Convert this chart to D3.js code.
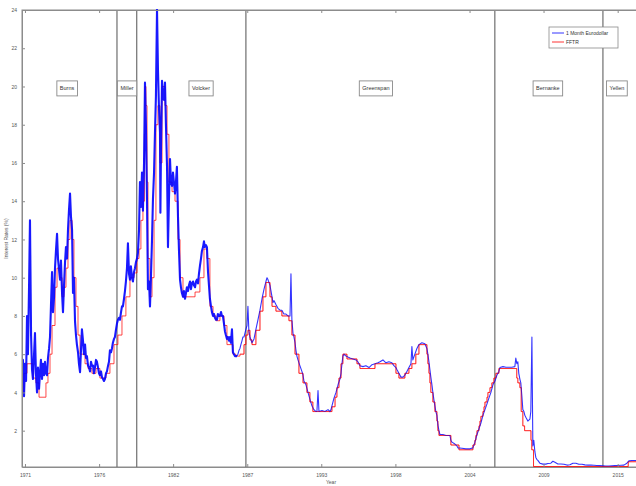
<!DOCTYPE html>
<html>
<head>
<meta charset="utf-8">
<script src="https://cdn.jsdelivr.net/npm/d3@7"></script>
<style>
  html, body { margin: 0; padding: 0; background: #fff; }
  svg { display: block; font-family: "Liberation Sans", Arial, sans-serif; }
</style>
</head>
<body>
<svg id="chart" width="636" height="486"></svg>
<script>
// 1-month Eurodollar deposit rate, [decimal year, percent]
const eurodollar = [
  [1971.15,4.4],[1971.22,5.7],[1971.30,3.8],[1971.37,5.5],[1971.45,4.6],[1971.52,8.0],[1971.59,6.0],[1971.67,9.5],
  [1971.74,13.0],[1971.82,7.0],[1971.89,5.2],[1971.96,4.7],[1972.04,6.0],[1972.11,7.1],[1972.18,5.0],[1972.26,4.0],
  [1972.33,5.3],[1972.41,4.2],[1972.48,5.0],[1972.55,5.7],[1972.63,4.7],[1972.70,5.5],[1972.78,4.9],[1972.85,5.6],
  [1972.92,5.0],[1973.00,4.9],[1973.07,5.8],[1973.15,6.3],[1973.22,6.9],[1973.29,8.5],[1973.37,10.3],[1973.44,8.2],
  [1973.52,9.0],[1973.59,10.5],[1973.66,11.4],[1973.74,12.3],[1973.81,11.0],[1973.89,10.4],[1973.96,9.9],[1974.03,10.9],
  [1974.11,9.2],[1974.18,8.2],[1974.25,9.5],[1974.33,10.8],[1974.40,11.6],[1974.48,11.0],[1974.55,12.5],[1974.62,13.5],
  [1974.70,14.4],[1974.77,13.2],[1974.85,12.5],[1974.92,9.2],[1974.99,10.0],[1975.07,7.7],[1975.14,7.0],[1975.21,6.5],
  [1975.29,6.1],[1975.36,5.5],[1975.44,5.06],[1975.51,6.2],[1975.58,7.3],[1975.66,6.7],[1975.73,6.0],[1975.81,6.5],
  [1975.88,5.8],[1975.95,5.9],[1976.03,5.4],[1976.10,5.3],[1976.18,5.1],[1976.25,5.6],[1976.32,5.4],[1976.40,5.4],
  [1976.47,5.0],[1976.54,5.3],[1976.62,5.7],[1976.69,5.6],[1976.77,5.3],[1976.84,5.0],[1976.91,4.9],[1976.99,5.1],
  [1977.06,4.8],[1977.14,4.7],[1977.21,4.6],[1977.28,4.7],[1977.36,5.0],[1977.43,5.1],[1977.51,5.4],[1977.58,5.6],
  [1977.65,6.2],[1977.73,6.1],[1977.80,6.3],[1977.87,6.6],[1977.95,6.8],[1978.02,6.9],[1978.10,7.3],[1978.17,7.6],
  [1978.24,7.8],[1978.32,7.9],[1978.39,7.8],[1978.47,8.2],[1978.54,8.5],[1978.61,8.5],[1978.69,8.9],[1978.76,9.3],
  [1978.83,9.8],[1978.91,10.5],[1978.98,11.8],[1979.06,10.2],[1979.13,9.9],[1979.20,10.6],[1979.28,10.0],[1979.35,9.8],
  [1979.43,10.3],[1979.50,10.5],[1979.57,10.8],[1979.65,11.0],[1979.72,11.3],[1979.80,12.5],[1979.87,15.0],[1979.94,13.7],
  [1980.02,15.5],[1980.09,13.5],[1980.17,16.0],[1980.24,20.2],[1980.31,18.0],[1980.39,14.0],[1980.46,9.4],[1980.54,9.8],
  [1980.61,8.5],[1980.68,10.0],[1980.76,12.0],[1980.83,14.1],[1980.91,15.5],[1980.98,17.6],[1981.05,19.5],[1981.13,24.0],
  [1981.20,20.9],[1981.27,19.0],[1981.35,17.6],[1981.38,13.4],[1981.42,16.5],[1981.50,20.3],[1981.57,19.5],[1981.64,19.3],
  [1981.72,20.2],[1981.79,18.0],[1981.87,15.8],[1981.94,11.6],[1982.01,14.0],[1982.09,16.2],[1982.16,15.0],[1982.24,14.8],
  [1982.31,15.5],[1982.38,15.0],[1982.46,14.4],[1982.53,15.0],[1982.60,15.8],[1982.68,13.2],[1982.75,11.5],[1982.83,9.9],
  [1982.90,9.5],[1982.97,9.2],[1983.05,9.0],[1983.12,9.3],[1983.20,8.9],[1983.27,9.2],[1983.34,9.5],[1983.42,9.3],
  [1983.49,9.6],[1983.57,9.8],[1983.64,9.4],[1983.71,9.7],[1983.79,9.8],[1983.86,9.6],[1983.94,9.5],[1984.01,9.8],
  [1984.08,9.9],[1984.16,9.7],[1984.23,10.2],[1984.30,10.6],[1984.38,11.0],[1984.45,11.4],[1984.53,11.6],[1984.60,11.9],
  [1984.67,11.6],[1984.75,11.7],[1984.82,11.6],[1984.90,10.3],[1984.97,9.6],[1985.04,8.9],[1985.12,8.5],[1985.19,8.2],
  [1985.27,8.0],[1985.34,8.1],[1985.41,7.9],[1985.49,7.8],[1985.56,7.8],[1985.63,8.1],[1985.71,8.0],[1985.78,8.0],
  [1985.86,8.2],[1985.93,8.0],[1986.00,8.0],[1986.08,7.6],[1986.15,7.2],[1986.22,7.0],[1986.30,6.8],[1986.37,6.9],
  [1986.45,6.7],[1986.52,6.9],[1986.59,6.6],[1986.67,7.3],[1986.74,6.1],[1986.82,6.0],[1986.89,5.9],[1986.96,5.9],
  [1987.04,5.9],[1987.11,6.0],[1987.19,6.2],[1987.26,6.3],[1987.33,6.5],[1987.41,6.7],[1987.48,6.9],[1987.56,6.9],
  [1987.63,7.1],[1987.70,7.3],[1987.78,7.5],[1987.85,8.5],[1987.92,7.2],[1988.00,6.9],[1988.15,6.6],[1988.30,6.8],
  [1988.44,7.3],[1988.59,7.8],[1988.74,8.3],[1988.89,8.9],[1989.04,9.4],[1989.18,9.8],[1989.26,10.0],[1989.33,9.9],
  [1989.48,9.6],[1989.63,9.0],[1989.70,8.7],[1989.78,8.8],[1989.92,8.6],[1990.07,8.4],[1990.22,8.3],[1990.36,8.3],
  [1990.51,8.1],[1990.66,8.1],[1990.81,8.0],[1990.96,8.0],[1991.03,10.2],[1991.10,7.8],[1991.18,7.1],[1991.25,6.9],
  [1991.33,6.6],[1991.40,6.2],[1991.47,5.9],[1991.55,5.7],[1991.69,5.4],[1991.84,5.1],[1991.92,4.9],[1991.99,4.6],
  [1992.14,4.4],[1992.29,4.0],[1992.43,3.65],[1992.58,3.3],[1992.73,3.1],[1992.88,3.0],[1992.95,3.0],[1993.03,4.1],
  [1993.10,3.0],[1993.32,3.05],[1993.54,3.0],[1993.77,3.1],[1993.91,3.0],[1993.99,3.1],[1994.06,3.3],[1994.21,3.7],
  [1994.36,4.0],[1994.51,4.4],[1994.65,4.7],[1994.73,5.0],[1994.80,5.5],[1994.87,5.9],[1994.95,6.0],[1995.10,5.9],
  [1995.24,5.85],[1995.39,5.8],[1995.61,5.75],[1995.84,5.7],[1995.98,5.6],[1996.13,5.4],[1996.35,5.35],[1996.57,5.4],
  [1996.80,5.3],[1997.02,5.45],[1997.24,5.5],[1997.46,5.55],[1997.61,5.6],[1997.83,5.7],[1998.05,5.55],[1998.27,5.6],
  [1998.49,5.55],[1998.64,5.4],[1998.79,5.3],[1998.86,5.2],[1999.01,5.0],[1999.16,4.8],[1999.31,4.8],[1999.45,4.9],
  [1999.60,5.1],[1999.75,5.3],[1999.90,5.5],[1999.97,6.4],[2000.04,5.7],[2000.19,6.0],[2000.34,6.3],[2000.49,6.5],
  [2000.71,6.6],[2000.93,6.55],[2001.08,6.3],[2001.15,6.0],[2001.23,5.6],[2001.30,5.2],[2001.37,4.8],[2001.45,4.4],
  [2001.52,4.0],[2001.60,3.6],[2001.67,3.3],[2001.74,3.0],[2001.82,2.8],[2001.89,2.3],[2001.97,2.0],[2002.04,1.8],
  [2002.26,1.8],[2002.48,1.75],[2002.78,1.75],[2002.85,1.5],[2002.93,1.4],[2003.15,1.3],[2003.30,1.2],[2003.37,1.1],
  [2003.67,1.08],[2003.96,1.05],[2004.26,1.05],[2004.48,1.1],[2004.63,1.4],[2004.78,1.8],[2004.93,2.1],[2005.07,2.4],
  [2005.22,2.8],[2005.37,3.1],[2005.52,3.4],[2005.66,3.7],[2005.81,4.0],[2005.96,4.4],[2006.11,4.6],[2006.25,4.9],
  [2006.40,5.1],[2006.48,5.3],[2006.70,5.35],[2006.92,5.32],[2007.14,5.32],[2007.36,5.32],[2007.58,5.35],[2007.65,5.8],
  [2007.73,5.5],[2007.80,5.6],[2007.87,5.0],[2007.95,4.7],[2008.02,4.5],[2008.10,3.8],[2008.17,3.1],[2008.25,3.0],
  [2008.32,2.8],[2008.39,2.7],[2008.47,2.6],[2008.54,2.5],[2008.69,2.6],[2008.76,3.0],[2008.84,6.9],[2008.91,1.2],
  [2008.98,1.5],[2009.06,0.9],[2009.13,0.6],[2009.20,0.5],[2009.28,0.45],[2009.43,0.3],[2009.65,0.25],[2009.87,0.25],
  [2010.02,0.28],[2010.24,0.3],[2010.39,0.4],[2010.54,0.35],[2010.76,0.26],[2010.98,0.26],[2011.21,0.24],[2011.43,0.2],
  [2011.65,0.22],[2011.87,0.3],[2012.09,0.3],[2012.31,0.24],[2012.54,0.24],[2012.76,0.21],[2012.98,0.2],[2013.20,0.2],
  [2013.42,0.19],[2013.64,0.18],[2013.87,0.17],[2014.09,0.16],[2014.31,0.15],[2014.53,0.15],[2014.75,0.16],[2014.97,0.17],
  [2015.20,0.18],[2015.42,0.19],[2015.64,0.2],[2015.86,0.3],[2016.01,0.42],[2016.23,0.44],[2016.53,0.44],[2016.83,0.46]
];

// Federal funds target rate, [decimal year, percent] (held until the next entry)
const fftr = [
  [1971.15,4.0],[1971.30,5.0],[1971.52,5.5],[1971.96,4.75],[1972.18,4.5],[1972.41,3.75],[1972.92,4.5],[1973.07,5.0],
  [1973.22,6.0],[1973.37,7.5],[1973.59,9.5],[1973.74,10.5],[1973.96,10.0],[1974.11,9.0],[1974.25,9.5],[1974.40,10.5],
  [1974.55,12.0],[1974.70,13.0],[1974.85,12.0],[1974.99,10.0],[1975.14,8.5],[1975.29,7.0],[1975.44,6.0],[1975.81,5.5],
  [1976.03,5.25],[1976.32,5.0],[1976.62,5.25],[1976.91,4.75],[1977.36,5.0],[1977.65,5.5],[1977.95,6.5],[1978.24,7.0],
  [1978.54,8.0],[1978.83,9.0],[1979.13,10.0],[1979.43,10.25],[1979.65,11.0],[1979.80,11.5],[1979.94,13.0],[1980.09,14.0],
  [1980.20,17.5],[1980.24,20.0],[1980.31,19.0],[1980.39,15.0],[1980.46,11.0],[1980.61,9.0],[1980.76,10.0],[1980.91,13.0],
  [1981.05,18.0],[1981.20,19.0],[1981.35,16.0],[1981.50,20.0],[1981.72,19.0],[1981.87,17.5],[1982.01,15.0],[1982.24,14.5],
  [1982.46,14.0],[1982.68,12.0],[1982.83,10.0],[1983.05,9.0],[1983.94,9.25],[1984.30,10.0],[1984.60,11.5],[1984.82,11.0],
  [1985.04,8.5],[1985.27,8.0],[1985.49,7.75],[1985.78,8.0],[1986.08,7.5],[1986.30,6.5],[1986.74,6.0],[1986.96,5.9],
  [1987.26,6.0],[1987.56,6.5],[1987.70,7.0],[1987.85,7.25],[1988.00,6.75],[1988.15,6.5],[1988.44,7.25],[1988.74,8.25],
  [1988.96,9.0],[1989.18,9.75],[1989.48,9.0],[1989.63,8.5],[1989.92,8.25],[1990.36,8.0],[1990.88,7.75],[1991.10,7.0],
  [1991.33,6.0],[1991.62,5.0],[1991.92,4.5],[1992.21,4.0],[1992.43,3.5],[1992.65,3.0],[1994.06,3.25],[1994.29,3.75],
  [1994.43,4.25],[1994.58,4.75],[1994.73,5.5],[1994.87,6.0],[1995.17,5.75],[1995.91,5.5],[1996.13,5.25],[1997.24,5.5],
  [1998.79,5.0],[1999.01,4.75],[1999.45,5.0],[1999.75,5.25],[1999.97,5.5],[2000.26,6.0],[2000.49,6.5],[2001.08,6.0],
  [2001.15,5.5],[2001.23,5.0],[2001.30,4.5],[2001.37,4.0],[2001.52,3.5],[2001.67,3.0],[2001.82,2.5],[2001.89,2.0],
  [2001.97,1.75],[2002.85,1.25],[2003.45,1.0],[2004.48,1.25],[2004.63,1.5],[2004.70,1.75],[2004.78,2.0],[2004.93,2.25],
  [2005.00,2.5],[2005.07,2.75],[2005.22,3.0],[2005.30,3.25],[2005.37,3.5],[2005.52,3.75],[2005.59,4.0],[2005.74,4.25],
  [2005.88,4.5],[2006.03,4.75],[2006.18,5.0],[2006.40,5.25],[2007.72,4.75],[2007.80,4.5],[2007.95,4.25],[2008.05,3.0],
  [2008.17,2.25],[2008.30,2.0],[2008.77,1.5],[2008.83,1.0],[2008.96,0.125],[2015.96,0.375],[2016.83,0.375]
];

// Fed chairs: term start lines and label anchors
const chairNames = ["Burns", "Miller", "Volcker", "Greenspan", "Bernanke", "Yellen"];
const chairTermStarts = [1978.17, 1979.63, 1987.70, 2006.10, 2014.09];
const chairLabelYears = [1974.48, 1978.91, 1984.38, 1997.31, 2010.02, 2015.12];
const chairLabelRate = 19.9;

// Axis ticks
const xTickYears = [1971.37, 1976.85, 1982.32, 1987.80, 1993.27, 1998.75, 2004.23, 2009.70, 2015.18];
const xTickLabels = ["1971", "1976", "1982", "1987", "1993", "1998", "2004", "2009", "2015"];
const yTickValues = [2, 4, 6, 8, 10, 12, 14, 16, 18, 20, 22, 24];

const seriesNames = ["1 Month Eurodollar", "FFTR"];
const seriesColors = ["#0000ff", "#ff0000"];

// the volatile pre-1987 stretch of the daily series reads as a heavier band
const volatileUntil = 1987.0;

const svg = d3.select("#chart");
const plotL = 22, plotR = 640, plotT = 10, plotB = 467;

const x = d3.scaleLinear().domain([1971.15, 2016.83]).range([plotL, plotR]);
const y = d3.scaleLinear().domain([0.1, 24.0]).range([plotB, plotT]);

const axisColor = "#8c8c8c";

// plot frame
svg.append("rect")
  .attr("x", plotL).attr("y", plotT)
  .attr("width", plotR - plotL).attr("height", plotB - plotT)
  .attr("fill", "#fff").attr("stroke", axisColor).attr("stroke-width", 1);

svg.append("clipPath").attr("id", "plotClip")
  .append("rect").attr("x", plotL).attr("y", plotT - 1)
  .attr("width", plotR - plotL).attr("height", plotB - plotT + 1);

const plot = svg.append("g").attr("clip-path", "url(#plotClip)");

// chair term boundaries
plot.selectAll("line.chair").data(chairTermStarts).join("line")
  .attr("class", "chair")
  .attr("x1", d => x(d)).attr("x2", d => x(d))
  .attr("y1", plotT).attr("y2", plotB)
  .attr("stroke", "#6e6e6e").attr("stroke-width", 1.2);

// series
const line = d3.line().x(d => x(d[0])).y(d => y(d[1]));
const stepLine = d3.line().x(d => x(d[0])).y(d => y(d[1])).curve(d3.curveStepAfter);

plot.append("path").datum(fftr)
  .attr("d", stepLine).attr("fill", "none")
  .attr("stroke", seriesColors[1]).attr("stroke-width", 0.9).attr("opacity", 0.8);

plot.append("path").datum(eurodollar.filter(d => d[0] <= volatileUntil + 0.1))
  .attr("d", line).attr("fill", "none")
  .attr("stroke", seriesColors[0]).attr("stroke-width", 2.1)
  .attr("stroke-linejoin", "round").attr("opacity", 0.9);

plot.append("path").datum(eurodollar.filter(d => d[0] >= volatileUntil))
  .attr("d", line).attr("fill", "none")
  .attr("stroke", seriesColors[0]).attr("stroke-width", 1.1)
  .attr("stroke-linejoin", "round").attr("opacity", 0.8);

// FFTR drawn again thinly on top where the two series coincide
plot.append("path").datum(fftr.filter(d => d[0] >= volatileUntil))
  .attr("d", stepLine).attr("fill", "none")
  .attr("stroke", seriesColors[1]).attr("stroke-width", 0.7).attr("opacity", 0.5);

// axes (ticks drawn inward)
const xAxis = d3.axisBottom(x).tickValues(xTickYears)
  .tickFormat((d, i) => xTickLabels[i]).tickSizeInner(-3).tickSizeOuter(0).tickPadding(6);
const gx = svg.append("g").attr("transform", `translate(0,${plotB})`).call(xAxis);
const xTop = d3.axisTop(x).tickValues(xTickYears).tickFormat("").tickSizeInner(-3).tickSizeOuter(0);
const gxt = svg.append("g").attr("transform", `translate(0,${plotT})`).call(xTop);

const yAxis = d3.axisLeft(y).tickValues(yTickValues).tickSizeInner(-3).tickSizeOuter(0).tickPadding(5);
const gy = svg.append("g").attr("transform", `translate(${plotL},0)`).call(yAxis);

[gx, gxt, gy].forEach(g => {
  g.select(".domain").attr("stroke", axisColor);
  g.selectAll(".tick line").attr("stroke", axisColor);
  g.selectAll(".tick text").attr("fill", "#555").attr("font-size", 5);
});

// axis titles
svg.append("text").attr("x", (plotL + plotR) / 2).attr("y", 484)
  .attr("text-anchor", "middle").attr("font-size", 5).attr("fill", "#555").text("Year");
svg.append("text").attr("transform", `translate(8,${(plotT + plotB) / 2}) rotate(-90)`)
  .attr("text-anchor", "middle").attr("font-size", 5).attr("fill", "#555").text("Interest Rates (%)");

// chair labels in boxes
const labels = svg.append("g");
chairNames.forEach((name, i) => {
  const g = labels.append("g").attr("transform", `translate(${x(chairLabelYears[i])},${y(chairLabelRate)})`);
  const t = g.append("text").attr("text-anchor", "middle").attr("dy", "0.35em")
    .attr("font-size", 5.5).attr("fill", "#333").text(name);
  const bb = t.node().getBBox();
  g.insert("rect", "text")
    .attr("x", bb.x - 3).attr("y", -7.5)
    .attr("width", bb.width + 6).attr("height", 15)
    .attr("fill", "#fff").attr("stroke", "#8a8a8a").attr("stroke-width", 0.9);
});

// legend
const legend = svg.append("g").attr("transform", "translate(549,27)");
legend.append("rect").attr("width", 69).attr("height", 21)
  .attr("fill", "#fff").attr("stroke", "#8a8a8a").attr("stroke-width", 0.8);
seriesNames.forEach((name, i) => {
  const ly = 6 + i * 9;
  legend.append("line").attr("x1", 3).attr("x2", 15).attr("y1", ly).attr("y2", ly)
    .attr("stroke", seriesColors[i]).attr("stroke-width", 0.8);
  legend.append("text").attr("x", 17).attr("y", ly).attr("dy", "0.35em")
    .attr("font-size", 5).attr("fill", "#333").text(name);
});
</script>
</body>
</html>
